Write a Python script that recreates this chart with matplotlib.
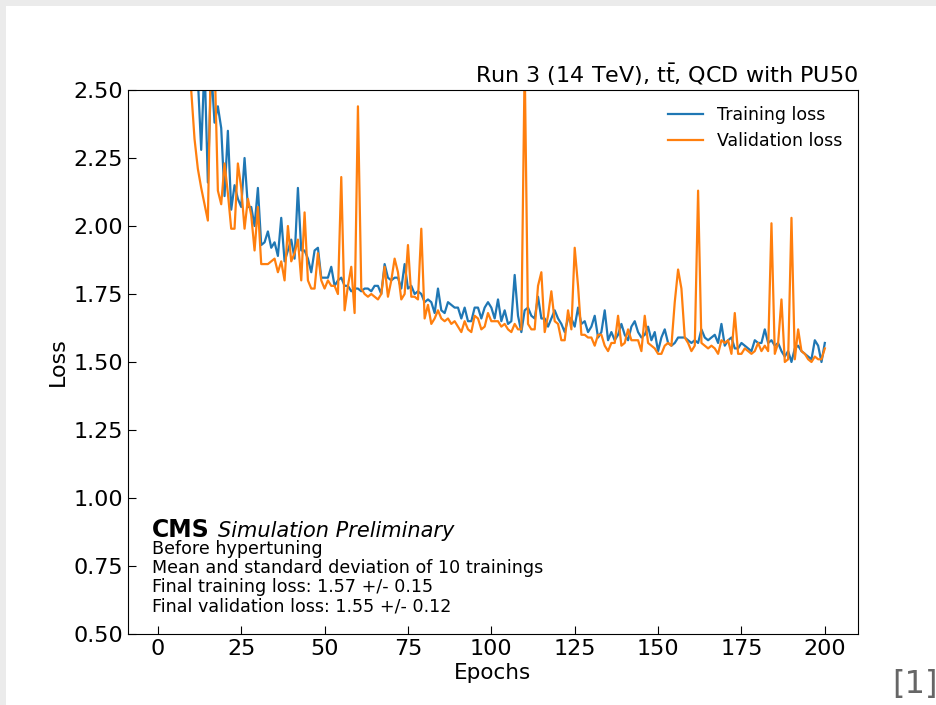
import numpy as np
import matplotlib
matplotlib.use("Agg")
import matplotlib.pyplot as plt
from matplotlib.patches import Rectangle


epochs = np.arange(1, 201)

train_loss = [
    4.20, 3.60, 3.30, 3.10, 2.95, 2.85, 2.78, 2.72, 2.66, 2.62,
    2.57, 2.54, 2.28, 2.60, 2.16, 2.58, 2.38, 2.44, 2.36, 2.11,
    2.35, 2.06, 2.15, 2.10, 2.07, 2.25, 2.07, 2.07, 2.00, 2.14,
    1.93, 1.94, 1.98, 1.92, 1.94, 1.89, 2.03, 1.87, 1.91, 1.95,
    1.88, 2.14, 1.91, 1.91, 1.88, 1.83, 1.91, 1.92, 1.81, 1.81,
    1.81, 1.85, 1.78, 1.80, 1.81, 1.78, 1.78, 1.76, 1.77, 1.77,
    1.76, 1.77, 1.77, 1.76, 1.78, 1.78, 1.75, 1.86, 1.81, 1.80,
    1.81, 1.81, 1.77, 1.86, 1.77, 1.78, 1.75, 1.76, 1.75, 1.72,
    1.73, 1.72, 1.68, 1.77, 1.69, 1.68, 1.72, 1.71, 1.70, 1.70,
    1.66, 1.70, 1.65, 1.65, 1.70, 1.70, 1.66, 1.70, 1.72, 1.70,
    1.66, 1.73, 1.65, 1.69, 1.64, 1.65, 1.82, 1.67, 1.61, 1.69,
    1.70, 1.67, 1.66, 1.74, 1.66, 1.66, 1.63, 1.66, 1.69, 1.66,
    1.64, 1.61, 1.66, 1.66, 1.63, 1.70, 1.64, 1.65, 1.61, 1.63,
    1.67, 1.59, 1.61, 1.69, 1.58, 1.61, 1.58, 1.60, 1.64, 1.60,
    1.58, 1.63, 1.65, 1.61, 1.59, 1.60, 1.63, 1.58, 1.61, 1.54,
    1.59, 1.62, 1.57, 1.56, 1.57, 1.59, 1.59, 1.59, 1.58, 1.57,
    1.58, 1.57, 1.62, 1.59, 1.58, 1.59, 1.60, 1.57, 1.64, 1.56,
    1.58, 1.59, 1.55, 1.55, 1.57, 1.56, 1.55, 1.54, 1.58, 1.57,
    1.57, 1.62, 1.57, 1.58, 1.56, 1.57, 1.54, 1.52, 1.54, 1.50,
    1.55, 1.56, 1.54, 1.53, 1.52, 1.51, 1.58, 1.56, 1.50, 1.57,
]

valid_loss = [
    4.00, 3.40, 3.10, 2.95, 2.85, 2.75, 2.68, 2.62, 2.56, 2.50,
    2.32, 2.21, 2.14, 2.08, 2.02, 2.70, 2.62, 2.13, 2.08, 2.23,
    2.12, 1.99, 1.99, 2.23, 2.14, 1.99, 2.10, 2.04, 1.91, 2.07,
    1.86, 1.86, 1.86, 1.87, 1.88, 1.83, 1.87, 1.80, 2.00, 1.87,
    1.90, 1.95, 1.80, 2.05, 1.80, 1.77, 1.77, 1.90, 1.80, 1.77,
    1.80, 1.78, 1.78, 1.75, 2.18, 1.69, 1.78, 1.85, 1.68, 2.44,
    1.77, 1.75, 1.74, 1.75, 1.74, 1.73, 1.75, 1.85, 1.74, 1.80,
    1.88, 1.83, 1.73, 1.75, 1.93, 1.74, 1.74, 1.73, 1.99, 1.66,
    1.71, 1.64, 1.66, 1.69, 1.66, 1.65, 1.66, 1.64, 1.65, 1.63,
    1.61, 1.65, 1.62, 1.61, 1.67, 1.66, 1.62, 1.63, 1.68, 1.65,
    1.65, 1.65, 1.63, 1.64, 1.62, 1.61, 1.64, 1.62, 1.62, 2.60,
    1.64, 1.62, 1.62, 1.78, 1.83, 1.61, 1.67, 1.76, 1.65, 1.64,
    1.58, 1.58, 1.69, 1.62, 1.92, 1.78, 1.60, 1.60, 1.59, 1.59,
    1.56, 1.60, 1.60, 1.56, 1.54, 1.57, 1.57, 1.67, 1.56, 1.57,
    1.62, 1.58, 1.58, 1.58, 1.54, 1.67, 1.57, 1.56, 1.55, 1.53,
    1.53, 1.56, 1.57, 1.56, 1.72, 1.84, 1.77, 1.59, 1.57, 1.54,
    1.56, 2.13, 1.57, 1.56, 1.55, 1.56, 1.55, 1.53, 1.58, 1.57,
    1.58, 1.53, 1.68, 1.53, 1.53, 1.55, 1.54, 1.53, 1.54, 1.57,
    1.54, 1.56, 1.54, 2.01, 1.53, 1.57, 1.73, 1.50, 1.51, 2.03,
    1.51, 1.62, 1.54, 1.53, 1.51, 1.50, 1.52, 1.51, 1.51, 1.55,
]

info_lines = [
    "Before hypertuning",
    "Mean and standard deviation of 10 trainings",
    "Final training loss: 1.57 +/- 0.15",
    "Final validation loss: 1.55 +/- 0.12",
]

fig = plt.figure(figsize=(9.37, 7.05), dpi=100)
fig.patch.set_facecolor("#ebebeb")
fig.patches.append(Rectangle((6 / 937, 0), 1, 1 - 6 / 705, transform=fig.transFigure,
                             facecolor="white", edgecolor="none", zorder=-1))

ax = fig.add_axes([128 / 937, 1 - 634 / 705, 730 / 937, 544 / 705])
ax.plot(epochs, train_loss, color="#1f77b4", lw=1.6, label="Training loss")
ax.plot(epochs, valid_loss, color="#ff7f0e", lw=1.6, label="Validation loss")

ax.set_ylim(0.5, 2.5)
ax.set_yticks(np.arange(0.5, 2.51, 0.25))
ax.yaxis.set_major_formatter(matplotlib.ticker.FormatStrFormatter("%.2f"))
ax.set_xticks(np.arange(0, 201, 25))
ax.tick_params(direction="in", length=6, labelsize=16)
ax.set_xlabel("Epochs", fontsize=15.5, labelpad=3)
ax.set_ylabel("Loss", fontsize=16)
ax.set_title(r"Run 3 (14 TeV), t$\mathrm{\bar{t}}$, QCD with PU50", loc="right", fontsize=16, pad=5)

ax.legend(loc="upper right", frameon=False, fontsize=12.5, handlelength=2.0)

ax.text(0.033, 0.178, "CMS", transform=ax.transAxes, fontsize=17, fontweight="bold", va="baseline")
ax.text(0.123, 0.178, "Simulation Preliminary", transform=ax.transAxes, fontsize=15,
        style="italic", va="baseline")
for i, line in enumerate(info_lines):
    ax.text(0.033, 0.156 - i * 0.0349, line, transform=ax.transAxes, fontsize=12.6, va="center")

fig.text(892 / 937, 1 - 685 / 705, "[1]", fontsize=23, color="#666666", va="center", ha="left")

fig.savefig("out.png", dpi=100, facecolor=fig.get_facecolor())
